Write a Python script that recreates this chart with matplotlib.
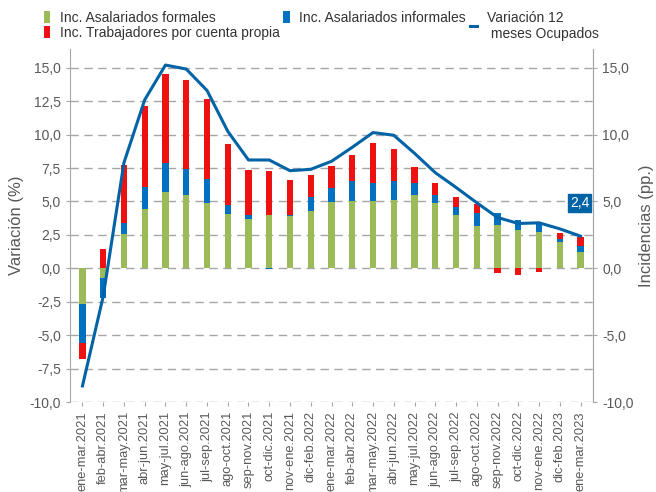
import matplotlib.pyplot as plt
import numpy as np

plt.rcParams['font.family'] = ['Liberation Sans', 'DejaVu Sans']

periodos = ["ene-mar.2021", "feb-abr.2021", "mar-may.2021", "abr-jun.2021", "may-jul.2021",
            "jun-ago.2021", "jul-sep.2021", "ago-oct.2021", "sep-nov.2021", "oct-dic.2021",
            "nov-ene.2021", "dic-feb.2022", "ene-mar.2022", "feb-abr.2022", "mar-may.2022",
            "abr-jun.2022", "may-jul.2022", "jun-ago.2022", "jul-sep.2022", "ago-oct.2022",
            "sep-nov.2022", "oct-dic.2022", "nov-ene.2022", "dic-feb.2023", "ene-mar.2023"]

formales = [-2.7, -0.75, 2.55, 4.4, 5.7, 5.5, 4.9, 4.05, 3.7, 3.95, 3.9, 4.25, 4.95,
            5.0, 5.05, 5.1, 5.5, 4.85, 3.95, 3.2, 3.25, 2.9, 2.75, 1.95, 1.2]
informales = [-2.9, -1.5, 0.8, 1.7, 2.2, 1.95, 1.8, 0.7, 0.25, -0.05, 0.1, 1.05, 1.05,
              1.5, 1.35, 1.4, 0.85, 0.65, 0.6, 0.9, 0.85, 0.7, 0.6, 0.25, 0.45]
cuenta_propia = [-1.2, 1.45, 4.35, 6.0, 6.65, 6.65, 5.95, 4.55, 3.4, 3.3, 2.6, 1.65, 1.65,
                 1.95, 2.95, 2.4, 1.25, 0.9, 0.8, 0.7, -0.35, -0.48, -0.3, 0.45, 0.7]
ocupados = [-8.8, -2.1, 7.9, 12.6, 15.2, 14.9, 13.3, 10.25, 8.1, 8.1, 7.3, 7.4, 8.0,
            9.05, 10.15, 9.95, 8.6, 7.15, 6.05, 4.9, 3.8, 3.35, 3.4, 2.95, 2.4]

verde = "#9BBB59"
azul = "#0070C0"
rojo = "#EE1111"
linea = "#0063A6"
gris = "#595959"

x = np.arange(len(periodos))
formales = np.array(formales)
informales = np.array(informales)
cuenta_propia = np.array(cuenta_propia)

# apilar positivos y negativos por separado
pos_base = np.zeros(len(x))
neg_base = np.zeros(len(x))

fig = plt.figure(figsize=(6.56, 4.92), dpi=100)
ax = fig.add_axes([70 / 656, 90 / 492, 523 / 656, 353 / 492])

handles = []
for vals, color, lab in [(formales, verde, "Inc. Asalariados formales"),
                         (informales, azul, "Inc. Asalariados informales"),
                         (cuenta_propia, rojo, "Inc. Trabajadores por cuenta propia")]:
    base = np.where(vals >= 0, pos_base, neg_base)
    b = ax.bar(x, vals, 0.3, bottom=base, color=color, label=lab, zorder=2)
    handles.append(b)
    pos_base = pos_base + np.where(vals >= 0, vals, 0)
    neg_base = neg_base + np.where(vals < 0, vals, 0)

ln, = ax.plot(x, ocupados, color=linea, lw=2.2, zorder=3)

ax.annotate("2,4", (x[-1], ocupados[-1]), xytext=(x[-1] - 0.05, 4.9), ha="center", va="center",
            color="white", fontsize=10,
            bbox=dict(boxstyle="square,pad=0.15", fc=linea, ec=linea), zorder=5)

ax.set_xlim(-0.6, 24.6)
ax.set_ylim(-10, 16.4)
ax.set_yticks(np.arange(-10, 15.1, 2.5))
ax.set_yticklabels([f"{v:.1f}".replace(".", ",") for v in np.arange(-10, 15.1, 2.5)])
ax.set_xticks(x)
ax.set_xticklabels(periodos, rotation=90)
ax.grid(axis="y", color="#A6A6A6", ls=(0, (6, 4)), lw=1, zorder=0)

ax.spines["top"].set_visible(False)
ax.spines["bottom"].set_visible(False)
ax.spines["left"].set_color("#A6A6A6")
ax.spines["right"].set_color("#A6A6A6")
ax.tick_params(colors="#A6A6A6", labelcolor=gris, labelsize=10, length=3)
ax.tick_params(axis="x", labelsize=9.3)
ax.set_ylabel("Variación (%)", color=gris, fontsize=12, labelpad=4)

ax2 = ax.twinx()
ax2.set_ylim(ax.get_ylim())
ax2.set_yticks(np.arange(-10, 15.1, 5))
ax2.set_yticklabels([f"{v:.1f}".replace(".", ",") for v in np.arange(-10, 15.1, 5)])
ax2.spines["top"].set_visible(False)
ax2.spines["bottom"].set_visible(False)
ax2.spines["left"].set_visible(False)
ax2.spines["right"].set_color("#A6A6A6")
ax2.tick_params(colors="#A6A6A6", labelcolor=gris, labelsize=10, length=3)
ax2.set_ylabel("Incidencias (pp.)", color=gris, fontsize=12, labelpad=4)

leg_kw = dict(loc="upper left", frameon=False, fontsize=10, handlelength=0.5,
              handleheight=1.0, handletextpad=0.7, labelspacing=0.1, labelcolor="#333333")
leg1 = fig.legend([handles[0], handles[2], handles[1]],
                  ["Inc. Asalariados formales", "Inc. Trabajadores por cuenta propia",
                   "Inc. Asalariados informales"],
                  ncol=2, bbox_to_anchor=(31 / 656, 1.004), columnspacing=0.2, **leg_kw)
leg2 = fig.legend([ln], ["Variación 12\n meses Ocupados"],
                  bbox_to_anchor=(458 / 656, 1.004), **leg_kw)

fig.savefig("out.png", dpi=100)
